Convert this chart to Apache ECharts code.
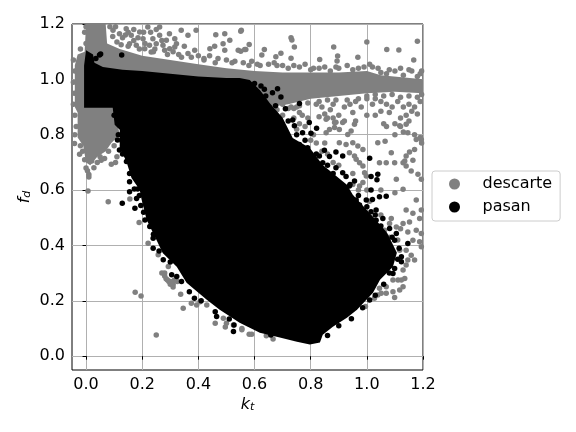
<!DOCTYPE html>
<html><head><meta charset="utf-8">
<script src="https://cdn.jsdelivr.net/npm/echarts@6/dist/echarts.min.js"></script>
<style>html,body{margin:0;padding:0;background:#fff}#c{width:576px;height:432px}</style>
</head><body><div id="c"></div>
<script>
const tickValues=[0,0.2,0.4,0.6,0.8,1.0,1.2];
const seriesNames=['descarte','pasan'];
// outline of the solid (fully overplotted) black cloud
const pasanCloud=[[-0.007,0.897],[-0.007,1.05],[0,1.105],[0.025,1.09],[0.03,1.06],[0.06,1.045],[0.13,1.035],[0.2,1.03],[0.3,1.02],[0.4,1.01],[0.5,1.005],[0.547,1.005],[0.583,0.998],[0.619,0.962],[0.654,0.915],[0.7,0.861],[0.736,0.788],[0.797,0.752],[0.843,0.691],[0.929,0.619],[0.95,0.583],[1.022,0.504],[1.072,0.446],[1.107,0.374],[1.093,0.323],[1.047,0.276],[1.022,0.229],[0.965,0.168],[0.929,0.139],[0.879,0.106],[0.843,0.077],[0.833,0.049],[0.797,0.042],[0.751,0.052],[0.69,0.067],[0.619,0.085],[0.547,0.121],[0.476,0.168],[0.43,0.204],[0.358,0.265],[0.323,0.323],[0.273,0.373],[0.251,0.42],[0.216,0.492],[0.198,0.565],[0.191,0.601],[0.162,0.644],[0.144,0.702],[0.12,0.753],[0.12,0.818],[0.102,0.836],[0.095,0.897]];
// outline of the solid grey band and blobs
const descarteCloud=[[0,1.2],[0.07,1.2],[0.075,1.13],[0.12,1.11],[0.2,1.085],[0.3,1.07],[0.4,1.055],[0.5,1.04],[0.6,1.03],[0.7,1.025],[0.8,1.025],[0.9,1.025],[1.0,1.03],[1.05,1.015],[1.2,1.0],[1.2,0.95],[1.1,0.955],[1.0,0.95],[0.9,0.94],[0.8,0.93],[0.72,0.91],[0.65,0.9],[0.55,0.95],[0.2,0.95],[0.11,0.85],[0.12,0.8],[0.09,0.77],[0.07,0.74],[0.04,0.72],[0.015,0.69],[0,0.7],[-0.01,0.76],[-0.03,0.79],[-0.03,0.88],[-0.04,0.9],[-0.04,1.05],[-0.03,1.09],[-0.005,1.1]];
const descarteX=[0.551,0.73,0.733,0.742,0.882,1.0,1.18,1.071,1.114,1.167,0.968,0.832,0.896,0.894,0.73,0.694,0.676,0.635,0.626,0.581,0.569,0.551,
0.339,0.363,0.392,0.316,0.297,0.286,0.262,0.238,0.226,0.203,0.191,0.161,0.143,0.22,0.262,0.119,0.096,0.179,0.155,0.209,0.232,0.25,0.274,0.316,0.322,0.298,0.387,0.363,0.441,0.458,0.488,0.512,0.494,0.462,0.494,0.553,0.542,0.565,
-0.041,-0.023,0.028,0.01,0.01,0.054,0.09,0.066,
0.74,0.76,0.75,0.77,0.82,0.84,0.86,0.88,0.87,0.85,0.83,0.86,0.88,0.9,0.92,0.94,0.96,0.98,0.95,0.92,0.89,0.96,1.0,1.02,1.03,1.05,1.07,1.09,1.11,1.13,1.15,1.17,1.19,1.05,1.08,1.12,1.14,1.16,1.18,1.1,1.12,1.15,1.03,1.0,1.06,1.07,1.13,1.17,1.19,1.195,1.1,
1.039,1.065,0.95,0.926,0.968,0.986,0.956,0.962,0.974,0.986,0.992,0.998,0.986,0.974,0.938,0.902,0.855,0.867,0.885,0.902,0.932,0.944,0.855,0.885,0.914,0.956,
1.135,1.14,1.152,1.17,1.129,1.14,1.158,1.182,1.194,1.164,1.069,1.045,1.099,1.087,1.105,1.129,1.194,1.176,1.146,1.14,1.117,
1.176,1.14,1.164,1.194,1.129,1.152,1.188,1.176,1.194,1.146,1.164,1.188,1.194,1.14,1.158,1.146,1.14,1.17,1.129,1.117,1.135,1.123,1.111,1.129,1.117,1.099,1.093,1.069,1.051,1.039,1.027,0.995,1.069,1.045,1.093,1.081,1.105,1.087,1.063,1.069,
0.079,0.007,0.156,0.189,0.221,0.257,0.293,0.175,0.196,0.25,0.337,0.346,0.375,0.46,0.496,0.27,0.28,0.285,0.29,0.295,0.3,0.31,0.31,0.3,0.315,0.325,0.28,0.394,0.406,0.43,0.489,0.5,0.525,0.555,0.581,0.555,0.59,0.642,0.666,
0.7,0.73,0.68,0.7,0.76,0.78,0.8,0.82,0.85,0.95,1.0,1.05,1.1,
0.42,0.46,0.52,0.58,0.62,0.68,0.72,0.76,0.81,0.85,0.9,0.93,0.97,1.01,1.04,1.08,1.12,1.16,1.19,0.24,0.29,0.34];
const descarteY=[1.174,1.15,1.142,1.117,1.117,1.135,1.138,1.108,1.106,1.07,1.08,1.072,1.084,1.066,1.076,1.094,1.082,1.108,1.088,1.126,1.108,1.102,
1.177,1.159,1.177,1.147,1.165,1.141,1.159,1.147,1.123,1.147,1.171,1.159,1.183,1.189,1.189,1.165,1.177,1.123,1.129,1.111,1.099,1.129,1.123,1.117,1.129,1.111,1.105,1.093,1.111,1.12,1.129,1.141,1.105,1.161,1.165,1.177,1.105,1.108,
0.768,0.729,0.681,0.656,0.647,0.708,0.693,0.714,
0.895,0.88,0.9,0.87,0.91,0.9,0.925,0.91,0.89,0.875,0.865,0.86,0.86,0.87,0.9,0.91,0.92,0.9,0.88,0.85,0.845,0.85,0.93,0.91,0.93,0.92,0.91,0.9,0.92,0.9,0.91,0.9,0.92,0.885,0.88,0.86,0.87,0.885,0.875,0.84,0.83,0.85,0.87,0.87,0.84,0.83,0.81,0.8,0.79,0.77,0.8,
0.771,0.776,0.771,0.765,0.759,0.747,0.723,0.711,0.699,0.687,0.663,0.651,0.627,0.615,0.735,0.771,0.807,0.819,0.826,0.819,0.801,0.813,0.856,0.844,0.844,0.838,
0.705,0.723,0.738,0.747,0.699,0.687,0.669,0.657,0.639,0.708,0.699,0.699,0.699,0.735,0.639,0.603,0.783,0.783,0.807,0.838,0.832,
0.564,0.528,0.516,0.528,0.479,0.485,0.497,0.455,0.443,0.449,0.419,0.413,0.395,0.383,0.365,0.347,0.329,0.347,0.311,0.383,0.281,0.275,0.275,0.251,0.239,0.212,0.233,0.227,0.227,0.221,0.209,0.179,0.251,0.245,0.275,0.479,0.467,0.497,0.455,0.419,
0.558,0.597,0.568,0.483,0.408,0.366,0.324,0.231,0.217,0.076,0.224,0.173,0.191,0.119,0.105,0.3,0.29,0.28,0.275,0.27,0.26,0.26,0.25,0.27,0.275,0.27,0.3,0.185,0.197,0.185,0.137,0.119,0.113,0.095,0.079,0.1,0.079,0.074,0.062,
0.87,0.9,0.93,0.91,0.84,0.83,0.78,0.77,0.77,0.62,0.6,0.6,0.59,
1.07,1.06,1.06,1.05,1.05,1.05,1.04,1.045,1.04,1.045,1.04,1.05,1.04,1.055,1.04,1.035,1.04,1.03,1.02,1.1,1.09,1.08];
// further grey marks: upper left scatter, rough band edges, patchy right end, left fringe
const descarteMore=[[0.085,1.19],[0.095,1.155],[0.105,1.19],[0.11,1.135],[0.13,1.15],[0.125,1.125],[0.14,1.16],[0.15,1.12],[0.15,1.17],[0.17,1.18],[0.17,1.14],[0.185,1.15],[0.19,1.11],[0.205,1.17],[0.21,1.13],[0.23,1.17],[0.245,1.11],[0.25,1.18],[0.27,1.14],[0.28,1.105],[0.31,1.1],[0.33,1.09],[0.35,1.12],[0.375,1.08],[0.4,1.085],[0.42,1.075],[0.44,1.085],[0.47,1.075],[0.5,1.07],[0.53,1.065],[0.56,1.06],[0.59,1.065],[0.61,1.055],[0.65,1.055],[0.67,1.06],[0.7,1.05],[0.74,1.05],[0.78,1.055],[0.8,1.035],[0.83,1.04],[0.87,1.03],[0.89,1.045],[0.95,1.035],[0.99,1.045],[1.02,1.045],[1.05,1.025],[1.07,1.02],[1.1,1.03],[1.13,1.015],[1.15,1.035],[1.18,1.01],[1.195,1.03],
[1.03,0.945],[1.06,0.94],[1.09,0.945],[1.12,0.935],[1.15,0.94],[1.18,0.935],[1.195,0.945],[1.0,0.94],[0.97,0.93],[0.93,0.925],[0.89,0.925],[0.83,0.92],[0.79,0.915],[0.76,0.905],[0.72,0.895],[0.68,0.89],[0.66,0.92],[0.635,0.94],[0.615,0.965],[0.6,0.99],
[-0.045,1.07],[-0.04,1.03],[-0.045,0.99],[-0.042,0.95],[-0.045,0.91],[-0.04,0.87],[-0.035,0.83],[-0.04,0.8],[-0.02,0.76],[-0.012,0.74],[-0.005,0.71],[0.0,0.68],[0.005,0.67],[0.02,0.705],[0.04,0.7],[0.05,0.72],[0.08,0.74],[0.1,0.76],[0.11,0.72],[0.105,0.7],[0.125,0.78],[0.13,0.76],[-0.02,1.11],[0.0,1.13],[-0.005,1.17],[0.0,1.19],
[0.74,0.86],[0.75,0.82],[0.79,0.86],[0.81,0.8],[0.84,0.74],[0.86,0.73],[0.88,0.7],[0.9,0.69],[0.95,0.66],[0.97,0.6],[1.01,0.56],[1.05,0.51],[1.08,0.43],[1.11,0.42],[1.12,0.46]];
const pasanX=[1.069,1.045,1.02,0.998,1.033,1.015,0.962,0.974,1.057,1.033,1.081,1.105,1.099,1.146,1.123,1.123,1.099,1.093,1.01,
0.623,0.635,0.664,0.694,0.682,0.76,0.71,0.736,0.742,0.771,0.801,0.821,0.795,0.849,0.89,0.914,0.867,0.843,0.89,0.914,0.926,0.956,1.01,1.039,1.015,1.036,1.015,0.938,0.831,0.76,0.789,
0.127,0.048,0.052,0.035,0.119,0.112,0.144,0.155,0.155,0.184,0.172,
0.129,0.18,0.174,0.195,0.21,0.227,0.239,0.239,0.275,0.305,0.323,0.368,0.386,0.465,0.51,0.527,0.525,0.658];
const pasanY=[0.578,0.576,0.566,0.564,0.528,0.522,0.564,0.546,0.497,0.491,0.461,0.443,0.419,0.407,0.359,0.341,0.317,0.299,0.203,
0.976,0.964,0.952,0.936,0.966,0.913,0.894,0.853,0.832,0.807,0.805,0.823,0.844,0.744,0.738,0.723,0.721,0.699,0.681,0.663,0.649,0.633,0.715,0.657,0.649,0.637,0.6,0.615,0.723,0.765,0.753,
1.088,1.088,1.092,1.075,0.745,0.781,0.703,0.63,0.594,0.604,0.604,
0.552,0.57,0.534,0.544,0.492,0.468,0.426,0.39,0.348,0.294,0.288,0.233,0.209,0.143,0.134,0.113,0.089,0.076];
// further black marks scalloping the rim of the solid cloud
const pasanMore=[[0.6,0.985],[0.64,0.94],[0.675,0.905],[0.72,0.85],[0.75,0.8],[0.78,0.78],[0.82,0.73],[0.86,0.69],[0.88,0.66],[0.94,0.62],[0.97,0.58],[1.0,0.54],[1.03,0.51],[1.05,0.47],[1.09,0.43],[1.115,0.39],[1.11,0.35],[1.08,0.3],[1.06,0.26],[1.03,0.22],[0.985,0.175],[0.945,0.135],[0.9,0.11],[0.86,0.075],
[0.46,0.16],[0.41,0.2],[0.34,0.27],[0.3,0.34],[0.26,0.38],[0.24,0.44],[0.205,0.52],[0.19,0.58],[0.155,0.66],[0.13,0.73],[0.115,0.8],[0.1,0.87]];

const GREY='#808080',BLACK='#000000',FONT='DejaVu Sans';
const zipXY=(xs,ys)=>xs.map((x,i)=>[x,ys[i]]);
const cloud=(name,pts,color,z)=>({type:'custom',name,z,silent:true,clip:true,data:[0],coordinateSystem:'cartesian2d',encode:{x:[],y:[]},
  renderItem:(p,api)=>({type:'polygon',shape:{points:pts.map(v=>api.coord(v))},style:{fill:color}})});
const dots=(name,data,color,z)=>({type:'scatter',name,z,symbol:'circle',symbolSize:5.5,data,itemStyle:{color,opacity:1},silent:true,animation:false});
const axisBase={axisLine:{show:false},nameMoveOverlap:false,
  axisTick:{show:true,length:3.5,customValues:tickValues,lineStyle:{color:'#000',width:1}},
  axisLabel:{customValues:tickValues,fontFamily:FONT,fontSize:16,color:'#000',margin:7,formatter:v=>v.toFixed(1)},
  splitLine:{show:true,lineStyle:{color:'#b0b0b0',width:1}}};
const nameStyle={fontFamily:FONT,fontSize:16,color:'#000',rich:{i:{fontFamily:FONT,fontSize:16,fontStyle:'italic',color:'#000'},s:{fontFamily:FONT,fontSize:11,fontStyle:'italic',color:'#000',verticalAlign:'bottom',padding:[6,0,0,0]}}};
const chart=echarts.init(document.getElementById('c'),null,{renderer:'canvas'});
chart.setOption({animation:false,backgroundColor:'#fff',
  grid:{left:72,top:24,width:351,height:346,show:true,borderColor:'#000',borderWidth:1,backgroundColor:'transparent',containLabel:false},
  xAxis:{type:'value',min:-0.05,max:1.2,...axisBase,name:'{i|k}{s|t}',nameLocation:'middle',nameGap:26,nameTextStyle:nameStyle},
  yAxis:{type:'value',min:-0.05,max:1.2,...axisBase,name:'{i|f}{s|d}',nameLocation:'middle',nameGap:39,nameTextStyle:nameStyle},
  legend:{orient:'vertical',left:432,top:171,padding:[5,8,6,17],itemGap:7,itemWidth:20,itemHeight:11,borderColor:'#ccc',borderWidth:1,borderRadius:3,backgroundColor:'#fff',
    textStyle:{fontFamily:FONT,fontSize:16,color:'#000',padding:[0,0,0,13]},selectedMode:false,
    data:[{name:seriesNames[0],icon:'circle',itemStyle:{color:GREY}},{name:seriesNames[1],icon:'circle',itemStyle:{color:BLACK}}]},
  series:[cloud(seriesNames[0],descarteCloud,GREY,2),dots(seriesNames[0],zipXY(descarteX,descarteY).concat(descarteMore),GREY,3),cloud(seriesNames[1],pasanCloud,BLACK,4),dots(seriesNames[1],zipXY(pasanX,pasanY).concat(pasanMore),BLACK,5)]
});
</script></body></html>
